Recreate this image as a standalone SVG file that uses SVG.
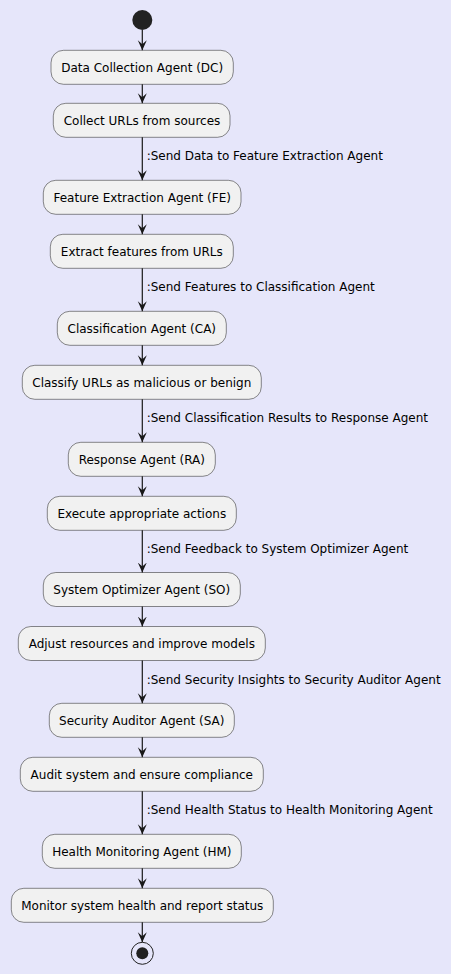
<svg xmlns="http://www.w3.org/2000/svg" width="451" height="974" viewBox="0 0 451 974">
<defs>
<style>
.box rect{fill:#F1F1F1;stroke:#181818;stroke-width:0.5}
.box text{font-family:"DejaVu Sans",sans-serif;font-size:12px;fill:#000;text-anchor:middle}
.lbl{font-family:"DejaVu Sans",sans-serif;font-size:12px;fill:#000}
.ln{stroke:#181818;stroke-width:1.2;fill:none}
</style>
<marker id="ah" viewBox="0 0 10 10" refX="10" refY="5" markerWidth="10" markerHeight="10" markerUnits="userSpaceOnUse" orient="auto">
<polygon points="0,0.5 10,5 0,9.5 4,5" fill="#181818"/>
</marker>
</defs>
<rect x="0" y="0" width="451" height="974" fill="#E6E6FA"/>
<g id="start"><circle cx="142.3" cy="20" r="10" fill="#222222"/></g>
<g id="n1" class="box"><rect x="51" y="50.3" width="182.3" height="34" rx="12.5"/><text x="142.2" y="71.5">Data Collection Agent (DC)</text></g>
<g id="n2" class="box"><rect x="53.3" y="103.3" width="176.7" height="34" rx="12.5"/><text x="142" y="124.5">Collect URLs from sources</text></g>
<g id="n3" class="box"><rect x="43.3" y="180.3" width="197.7" height="34" rx="12.5"/><text x="142.2" y="201.5">Feature Extraction Agent (FE)</text></g>
<g id="n4" class="box"><rect x="50.3" y="234.3" width="183" height="34" rx="12.5"/><text x="141.8" y="255.5">Extract features from URLs</text></g>
<g id="n5" class="box"><rect x="57.3" y="311.3" width="169" height="34" rx="12.5"/><text x="141.8" y="332.5">Classification Agent (CA)</text></g>
<g id="n6" class="box"><rect x="22.3" y="365.3" width="239" height="34" rx="12.5"/><text x="141.8" y="386.5">Classify URLs as malicious or benign</text></g>
<g id="n7" class="box"><rect x="68.3" y="442.3" width="147" height="34" rx="12.5"/><text x="141.8" y="463.5">Response Agent (RA)</text></g>
<g id="n8" class="box"><rect x="47.3" y="496.3" width="189" height="34" rx="12.5"/><text x="141.8" y="517.5">Execute appropriate actions</text></g>
<g id="n9" class="box"><rect x="43.3" y="572.5" width="197" height="34" rx="12.5"/><text x="141.8" y="593.7">System Optimizer Agent (SO)</text></g>
<g id="n10" class="box"><rect x="18.3" y="626.5" width="247" height="34" rx="12.5"/><text x="141.8" y="647.7">Adjust resources and improve models</text></g>
<g id="n11" class="box"><rect x="49.3" y="703.3" width="185" height="34" rx="12.5"/><text x="141.8" y="724.5">Security Auditor Agent (SA)</text></g>
<g id="n12" class="box"><rect x="20.3" y="757.3" width="243" height="34" rx="12.5"/><text x="141.8" y="778.5">Audit system and ensure compliance</text></g>
<g id="n13" class="box"><rect x="42.3" y="834.3" width="199" height="34" rx="12.5"/><text x="141.8" y="855.5">Health Monitoring Agent (HM)</text></g>
<g id="n14" class="box"><rect x="11.3" y="888.3" width="262" height="34" rx="12.5"/><text x="142.3" y="909.5">Monitor system health and report status</text></g>
<g id="end"><circle cx="142.3" cy="953.3" r="11" fill="none" stroke="#222222" stroke-width="1"/><circle cx="142.3" cy="953.3" r="6" fill="#222222"/></g>
<g id="connectors">
<line class="ln" x1="142.3" y1="30" x2="142.3" y2="50.3" marker-end="url(#ah)"/>
<line class="ln" x1="142.3" y1="84.3" x2="142.3" y2="103.3" marker-end="url(#ah)"/>
<line class="ln" x1="142.3" y1="137.3" x2="142.3" y2="180.3" marker-end="url(#ah)"/>
<line class="ln" x1="142.3" y1="214.3" x2="142.3" y2="234.3" marker-end="url(#ah)"/>
<line class="ln" x1="142.3" y1="268.3" x2="142.3" y2="311.3" marker-end="url(#ah)"/>
<line class="ln" x1="142.3" y1="345.3" x2="142.3" y2="365.3" marker-end="url(#ah)"/>
<line class="ln" x1="142.3" y1="399.3" x2="142.3" y2="442.3" marker-end="url(#ah)"/>
<line class="ln" x1="142.3" y1="476.3" x2="142.3" y2="496.3" marker-end="url(#ah)"/>
<line class="ln" x1="142.3" y1="530.3" x2="142.3" y2="572.5" marker-end="url(#ah)"/>
<line class="ln" x1="142.3" y1="606.5" x2="142.3" y2="626.5" marker-end="url(#ah)"/>
<line class="ln" x1="142.3" y1="660.5" x2="142.3" y2="703.3" marker-end="url(#ah)"/>
<line class="ln" x1="142.3" y1="737.3" x2="142.3" y2="757.3" marker-end="url(#ah)"/>
<line class="ln" x1="142.3" y1="791.3" x2="142.3" y2="834.3" marker-end="url(#ah)"/>
<line class="ln" x1="142.3" y1="868.3" x2="142.3" y2="888.3" marker-end="url(#ah)"/>
<line class="ln" x1="142.3" y1="922.3" x2="142.3" y2="942.3" marker-end="url(#ah)"/>
<text class="lbl" x="146.7" y="160.2">:Send Data to Feature Extraction Agent</text>
<text class="lbl" x="146.7" y="291.2">:Send Features to Classification Agent</text>
<text class="lbl" x="146.7" y="422.2">:Send Classification Results to Response Agent</text>
<text class="lbl" x="146.7" y="553.2">:Send Feedback to System Optimizer Agent</text>
<text class="lbl" x="146.7" y="683.7">:Send Security Insights to Security Auditor Agent</text>
<text class="lbl" x="146.7" y="814.2">:Send Health Status to Health Monitoring Agent</text>
</g>
</svg>
